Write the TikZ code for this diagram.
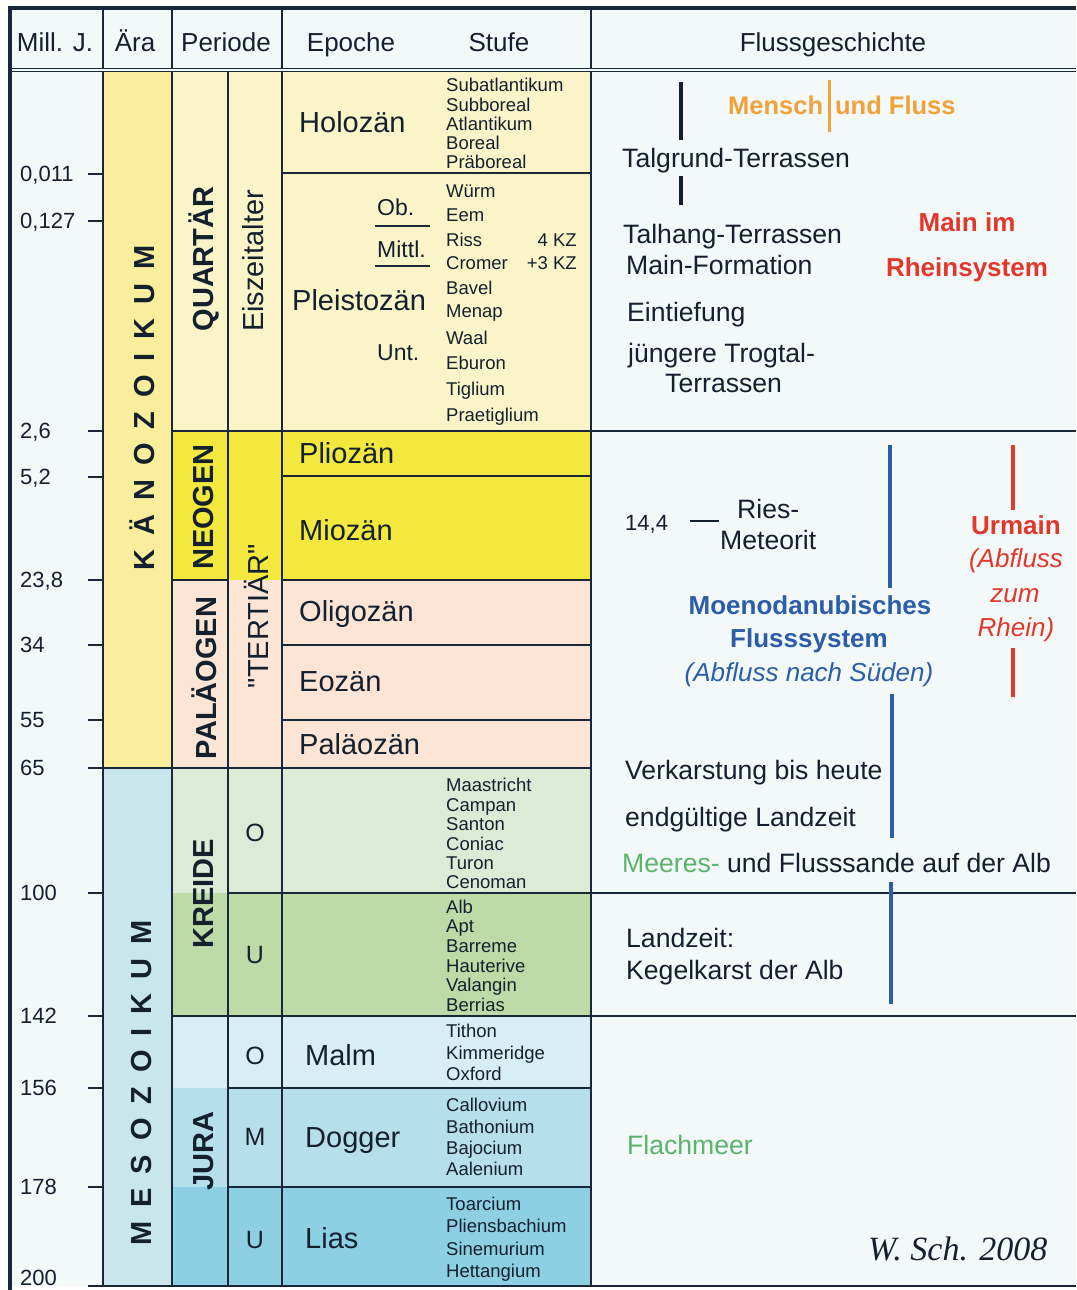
\documentclass[tikz,border=0pt]{standalone}
\usepackage{fontspec}
\setmainfont{Liberation Sans}
\newfontfamily\rawsans{Liberation Sans}
\newfontfamily\sigfont{Liberation Serif}
\usepackage{tikz}
\usetikzlibrary{calc}

\definecolor{ink}{HTML}{15202E}
\definecolor{rule}{HTML}{1A2738}
\definecolor{paper}{HTML}{F3F8F8}
\definecolor{kaenozoikum}{HTML}{FAEE9C}
\definecolor{quartaer}{HTML}{F9F5C9}
\definecolor{neogen}{HTML}{F3E93E}
\definecolor{palaeogen}{HTML}{FCE5D5}
\definecolor{kreideO}{HTML}{DCEBD6}
\definecolor{kreideU}{HTML}{BDDBA7}
\definecolor{malm}{HTML}{D7EEF5}
\definecolor{dogger}{HTML}{B5DFEA}
\definecolor{lias}{HTML}{8ED0E3}
\definecolor{mesozoikum}{HTML}{C8E6EC}
\definecolor{flussblau}{HTML}{2C5DA8}
\definecolor{flussrot}{HTML}{E2382C}
\definecolor{menschorange}{HTML}{F2A23A}
\definecolor{meergruen}{HTML}{5BB36C}

\newcommand{\fsz}[2]{\fontsize{#1}{#2}\selectfont}
\newcommand{\lsp}{\hspace{13.9pt}}

\tikzset{
  tabline/.style={draw=rule, line width=2.2pt},
  frameline/.style={draw=rule, line width=3.4pt},
  headline/.style={draw=rule, double=paper, double distance=1.6pt, line width=1.6pt},
  mjtick/.style={draw=rule, line width=2pt},
  head/.style={anchor=base, text=ink, inner sep=0pt, font=\fsz{26}{30}},
  mjlabel/.style={anchor=base west, text=ink, inner sep=0pt, font=\fsz{22}{26}},
  aera/.style={rotate=90, text=ink, inner sep=0pt, font=\fsz{29}{32}\bfseries},
  periode/.style={rotate=90, text=ink, inner sep=0pt, font=\fsz{29}{32}\bfseries},
  unterperiode/.style={rotate=90, text=ink, inner sep=0pt, font=\fsz{29}{32}},
  serie/.style={text=ink, inner sep=0pt, font=\fsz{25}{28}},
  epoche/.style={anchor=base west, text=ink, inner sep=0pt, font=\fsz{29}{32}},
  teil/.style={anchor=base west, text=ink, inner sep=0pt, font=\fsz{23}{26}},
  stufe/.style={anchor=base west, text=ink, inner sep=0pt, font=\fsz{18.5}{20}},
  fluss/.style={anchor=base west, text=ink, inner sep=0pt, font=\fsz{26.6}{30}},
  flussfett/.style={anchor=base, inner sep=0pt, font=\fsz{26}{30}\bfseries},
  flusskursiv/.style={anchor=base, inner sep=0pt, font=\fsz{26}{30}\itshape},
  balken/.style={line width=4pt},
}

\begin{document}
\begin{tikzpicture}[x=1pt,y=-1pt]
\useasboundingbox (0,0) rectangle (1076,1290);

% Flaechen
\fill[paper] (10,8) rectangle (1076,1286);
\fill[kaenozoikum] (103,70) rectangle (172,768);
\fill[mesozoikum] (103,768) rectangle (172,1286);
\fill[quartaer] (172,70) rectangle (591,431);
\fill[neogen] (172,431) rectangle (591,580);
\fill[palaeogen] (172,580) rectangle (591,768);
\fill[kreideO] (172,768) rectangle (591,893);
\fill[kreideU] (172,893) rectangle (591,1016);
\fill[malm] (172,1016) rectangle (591,1088);
\fill[dogger] (172,1088) rectangle (591,1187);
\fill[lias] (172,1187) rectangle (591,1286);

% Linien
\foreach \x in {103,172,282,591}
  \draw[tabline] (\x,8) -- (\x,1286);
\draw[tabline] (228,70) -- (228,1286);
\draw[tabline] (282,173) -- (591,173);
\draw[tabline] (172,431) -- (1076,431);
\draw[tabline] (282,476) -- (591,476);
\draw[tabline] (172,580) -- (228,580);
\draw[tabline] (282,580) -- (591,580);
\draw[tabline] (282,645) -- (591,645);
\draw[tabline] (282,720) -- (591,720);
\draw[tabline] (103,768) -- (591,768);
\draw[tabline] (228,893) -- (1076,893);
\draw[tabline] (172,1016) -- (1076,1016);
\draw[tabline] (228,1088) -- (591,1088);
\draw[tabline] (228,1187) -- (591,1187);
\draw[tabline] (88,1286) -- (1076,1286);
\draw[headline] (10,70) -- (1076,70);
\draw[frameline] (10,1290) -- (10,8) -- (1076,8);

% Kopfzeile
\node[head] (h-mj) at (55,52) {Mill. J.};
\node[head] (h-aera) at (135,52) {Ära};
\node[head] (h-periode) at (226,52) {Periode};
\node[head] (h-epoche) at (351,52) {Epoche};
\node[head] (h-stufe) at (499,52) {Stufe};
\node[head] (h-fluss) at (833,52) {Flussgeschichte};

% Mill. J.
\foreach \y/\lab in {174/{0,011},221/{0,127},431/{2,6},477/{5,2},580/{23,8},645/{34},
                     720/{55},768/{65},893/{100},1016/{142},1088/{156},1187/{178}}{
  \draw[mjtick] (88,\y) -- (103,\y);
  \node[mjlabel] (mj-\y) at (20,\y+7) {\lab};
}
\node[mjlabel] (mj-1286) at (20,1285) {200};

% Aera und Periode
\node[aera] (kaeno) at (142,408) {K\lsp Ä\lsp N\lsp O\lsp Z\lsp O\lsp I\lsp K\lsp U\lsp M};
\node[aera] (meso) at (142,1083) {M\lsp E\lsp S\lsp O\lsp Z\lsp O\lsp I\lsp K\lsp U\lsp M};
\node[periode] (quartaer) at (204,259) {QUARTÄR};
\node[periode] (neogen) at (204,507) {NEOGEN};
\node[periode] (palaeogen) at (204,678) {PALÄOGEN};
\node[periode] (kreide) at (204,894) {KREIDE};
\node[periode] (jura) at (204,1151) {JURA};
\node[unterperiode] (eiszeit) at (253,261) {Eiszeitalter};
\node[unterperiode] (tertiaer) at (256,616) {\rawsans "TERTIÄR"};
\node[serie] (kr-o) at (255,833) {O};
\node[serie] (kr-u) at (255,955) {U};
\node[serie] (ju-o) at (255,1056) {O};
\node[serie] (ju-m) at (255,1137) {M};
\node[serie] (ju-u) at (255,1240) {U};

% Epochen
\node[epoche] (holozaen) at (299,132) {Holozän};
\node[epoche] (pleistozaen) at (292,310) {Pleistozän};
\node[epoche] (pliozaen) at (299,463) {Pliozän};
\node[epoche] (miozaen) at (299,540) {Miozän};
\node[epoche] (oligozaen) at (299,621) {Oligozän};
\node[epoche] (eozaen) at (299,691) {Eozän};
\node[epoche] (palaeozaen) at (299,754) {Paläozän};
\node[epoche] (malm) at (305,1065) {Malm};
\node[epoche] (dogger) at (305,1147) {Dogger};
\node[epoche] (lias) at (305,1248) {Lias};

\node[teil] (ob) at (377,215) {Ob.};
\node[teil] (mittl) at (377,257) {Mittl.};
\node[teil] (unt) at (377,360) {Unt.};
\draw[tabline] (375,226) -- (430,226);
\draw[tabline] (375,266) -- (430,266);

% Stufen
\foreach \t/\y in {Subatlantikum/92,Subboreal/111,Atlantikum/130,Boreal/149,Präboreal/168,
                   Würm/197,Eem/221,Riss/246,Cromer/269,Bavel/294,Menap/317,Waal/344,
                   Eburon/369,Tiglium/395,Praetiglium/421,
                   Maastricht/791,Campan/811,Santon/830,Coniac/850,Turon/869,Cenoman/888,
                   Alb/913,Apt/932,Barreme/952,Hauterive/972,Valangin/991,Berrias/1011,
                   Tithon/1037,Kimmeridge/1059,Oxford/1080,
                   Callovium/1111,Bathonium/1133,Bajocium/1154,Aalenium/1175,
                   Toarcium/1210,Pliensbachium/1232,Sinemurium/1255,Hettangium/1277}
  \node[stufe] (st-\t) at (446,\y) {\t};
\node[stufe, anchor=base east] (kz4) at (577,246) {4 KZ};
\node[stufe, anchor=base east] (kz3) at (577,269) {+3 KZ};

% Flussgeschichte
\coordinate (tg-a) at (681,82);
\coordinate (tg-b) at (681,140);
\coordinate (tg-c) at (681,176);
\coordinate (tg-d) at (681,205);
\draw[balken, ink] (tg-a) -- (tg-b);
\draw[balken, ink] (tg-c) -- (tg-d);
\coordinate (mf-a) at (829,80);
\coordinate (mf-b) at (829,132);
\draw[line width=3pt, menschorange] (mf-a) -- (mf-b);
\node[anchor=base west, inner sep=0pt, text=menschorange, font=\fsz{25.5}{28}\bfseries] (mensch) at (728,114) {Mensch\hspace{12pt}und Fluss};

\node[fluss] (talgrund) at (622,167) {Talgrund-Terrassen};
\node[fluss] (talhang) at (623,243) {Talhang-Terrassen};
\node[fluss] (mainform) at (626,274) {Main-Formation};
\node[fluss] (eintiefung) at (627,321) {Eintiefung};
\node[fluss] (trogtal) at (628,362) {jüngere Trogtal-};
\node[fluss] (trogterr) at (665,392) {Terrassen};
\node[flussfett, text=flussrot] (mainim) at (967,231) {Main im};
\node[flussfett, text=flussrot] (rheinsys) at (967,276) {Rheinsystem};

\node[fluss, font=\fsz{22}{26}] (ries-mj) at (625,530) {14,4};
\coordinate (ries-a) at (690,521);
\coordinate (ries-b) at (719,521);
\draw[line width=2pt, ink] (ries-a) -- (ries-b);
\node[fluss] (ries) at (737,518) {Ries-};
\node[fluss] (meteorit) at (720,549) {Meteorit};

\coordinate (blau-a) at (890,445);
\coordinate (blau-b) at (890,588);
\coordinate (blau-c) at (892,694);
\coordinate (blau-d) at (892,838);
\coordinate (blau-e) at (891,882);
\coordinate (blau-f) at (891,1004);
\draw[balken, flussblau] (blau-a) -- (blau-b);
\draw[balken, flussblau] (blau-c) -- (blau-d);
\draw[balken, flussblau] (blau-e) -- (blau-f);
\node[flussfett, text=flussblau] (moeno) at (810,614) {Moenodanubisches};
\node[flussfett, text=flussblau] (flusssys) at (809,647) {Flusssystem};
\node[flusskursiv, text=flussblau] (sueden) at (809,681) {(Abfluss nach Süden)};

\coordinate (rot-a) at (1013,445);
\coordinate (rot-b) at (1013,510);
\coordinate (rot-c) at (1013,648);
\coordinate (rot-d) at (1013,697);
\draw[balken, flussrot] (rot-a) -- (rot-b);
\draw[balken, flussrot] (rot-c) -- (rot-d);
\node[flussfett, text=flussrot] (urmain) at (1016,534) {Urmain};
\node[flusskursiv, text=flussrot] (abfl) at (1016,567) {(Abfluss};
\node[flusskursiv, text=flussrot] (zum) at (1015,602) {zum};
\node[flusskursiv, text=flussrot] (rhein) at (1016,636) {Rhein)};

\node[fluss] (verkarst) at (625,779) {Verkarstung bis heute};
\node[fluss] (landzeit1) at (625,826) {endgültige Landzeit};
\node[fluss] (sande) at (622,872) {\textcolor{meergruen}{Meeres-} und Flusssande auf der Alb};
\node[fluss] (landzeit2) at (626,947) {Landzeit:};
\node[fluss] (kegelkarst) at (626,979) {Kegelkarst der Alb};
\node[fluss, text=meergruen] (flachmeer) at (627,1154) {Flachmeer};
\node[anchor=base west, inner sep=0pt, text=ink, font=\sigfont\itshape\fsz{34}{38}] (sig) at (868,1260) {W. Sch. 2008};
\end{tikzpicture}
\end{document}
